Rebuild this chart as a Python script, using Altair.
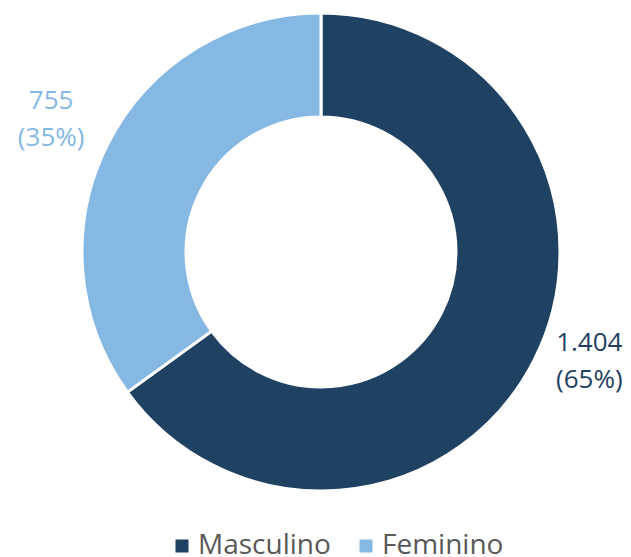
import altair as alt
import pandas as pd

categories = ["Masculino", "Feminino"]
values = [1404, 755]
labels_num = ["1.404", "755"]
labels_pct = ["(65%)", "(35%)"]
colors = ["#1f4263", "#85b8e3"]

df = pd.DataFrame({
    "cat": categories,
    "val": values,
    "order": [0, 1],
    "label": [[n, p] for n, p in zip(labels_num, labels_pct)],
})
total = sum(values)

W, H = 615, 549
cx, cy = 313, 244

color = alt.Color(
    "cat:N",
    scale=alt.Scale(domain=categories, range=colors),
    legend=alt.Legend(
        title=None,
        orient="none",
        legendX=160,
        legendY=524,
        direction="horizontal",
        symbolType="square",
        symbolSize=170,
        symbolStrokeWidth=0,
        labelFont="Open Sans",
        labelFontSize=28,
        labelColor="#595959",
        columnPadding=21,
        labelOffset=2,
    ),
)

arcs = alt.Chart(df).mark_arc(
    outerRadius=239, innerRadius=135, stroke="white", strokeWidth=3
).encode(
    theta=alt.Theta("val:Q", stack=True, scale=alt.Scale(domain=[0, total])),
    order=alt.Order("order:Q"),
    color=color,
    x=alt.value(cx),
    y=alt.value(cy),
)

txt = alt.Chart(df).transform_window(
    cum="sum(val)", sort=[alt.SortField("order")]
).transform_calculate(
    mid="datum.cum - datum.val / 2"
)

def label_layer(cat, radius, dx, dy):
    return txt.transform_filter(alt.datum.cat == cat).mark_text(
        radius=radius, font="Open Sans", fontSize=26, lineHeight=37, dx=dx, dy=dy
    ).encode(
        theta=alt.Theta("mid:Q", stack=False, scale=alt.Scale(domain=[0, total])),
        color=color,
        text="label",
        x=alt.value(cx),
        y=alt.value(cy),
    )

text_m = label_layer("Masculino", 290, 10, -41)
text_f = label_layer("Feminino", 303, 0, -13)

chart = (arcs + text_m + text_f).properties(
    width=W, height=H, autosize=alt.AutoSizeParams(type="none"), padding=0
).configure_view(stroke=None)

chart.save("out.html", embed_options={"renderer": "svg", "actions": False})
